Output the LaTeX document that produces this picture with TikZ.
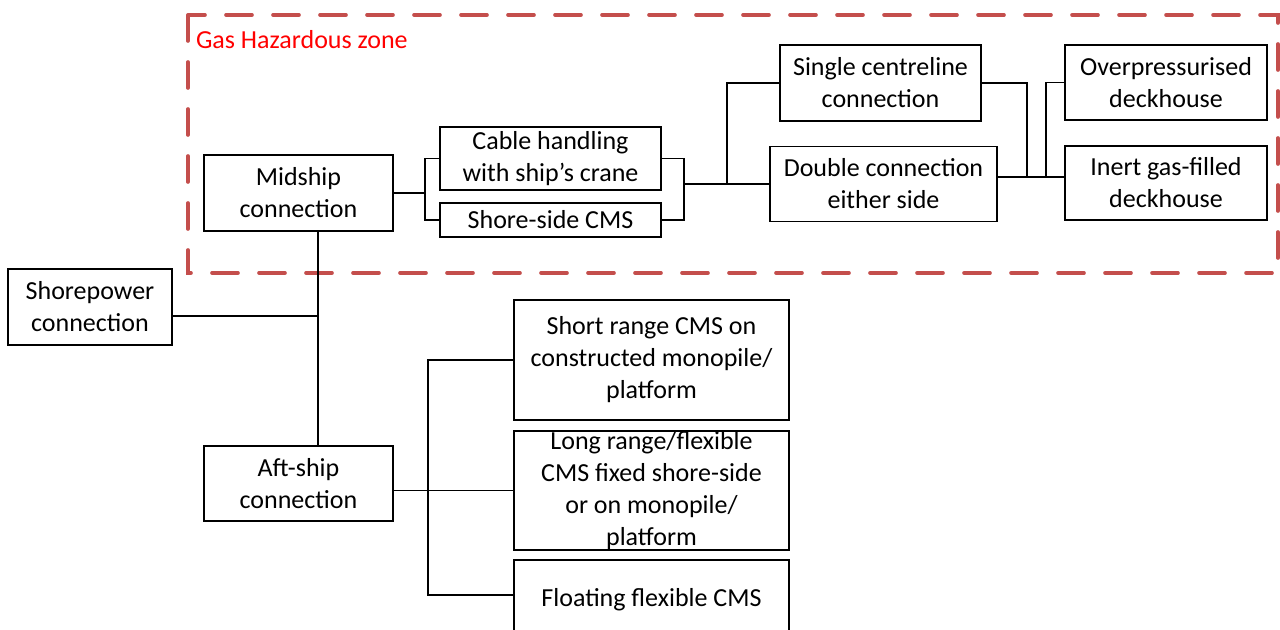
\documentclass[tikz,border=0pt]{standalone}
\usepackage{fontspec}
\setmainfont{Carlito}
\usetikzlibrary{calc}
\definecolor{zonered}{RGB}{196,78,76}
\tikzset{
	box/.style={draw=black, line width=0.7pt, align=center, inner sep=0pt,
		font=\fontsize{13pt}{16pt}\selectfont},
	link/.style={black, line width=0.6pt},
}
\begin{document}
\begin{tikzpicture}[x=0.5pt, y=-0.5pt]
			\clip (0,0) rectangle (1280,630);
			\fill[white] (0,0) rectangle (1280,630);
			% gas hazardous zone
			\draw[zonered, line width=1.8pt, line cap=round, dash pattern=on 13pt off 10.5pt] (188,15) rectangle (1278,273);
			\node[anchor=west, text=red, font=\fontsize{13pt}{16pt}\selectfont] (zone) at (189,40) {Gas Hazardous zone};
			% boxes
			\node[box, minimum width=94.5pt, minimum height=38pt] (mid) at (298.5,193) {Midship\\connection};
			\node[box, minimum width=110.5pt, minimum height=31.5pt] (cable) at (550.5,158.5) {Cable handling\\with ship’s crane};
			\node[box, minimum width=110.5pt, minimum height=17pt] (shore) at (550.5,220) {Shore-side CMS};
			\node[box, minimum width=100.5pt, minimum height=38pt] (single) at (880.5,83) {Single centreline\\connection};
			\node[box, minimum width=113.5pt, minimum height=37.5pt] (double) at (883.5,184) {Double connection\\either side};
			\node[box, minimum width=101pt, minimum height=37.5pt] (overp) at (1166,82.5) {Overpressurised\\deckhouse};
			\node[box, minimum width=101pt, minimum height=37pt] (inert) at (1166,183) {Inert gas-filled\\deckhouse};
			\node[box, minimum width=82pt, minimum height=38pt] (shorepower) at (90,307) {Shorepower\\connection};
			\node[box, minimum width=94.5pt, minimum height=37.5pt] (aft) at (298.5,483.5) {Aft-ship\\connection};
			\node[box, minimum width=137.5pt, minimum height=60pt] (short) at (651.5,360) {Short range CMS on\\constructed monopile/\\platform};
			\node[box, minimum width=137.5pt, minimum height=59.5pt] (long) at (651.5,490.5) {Long range/flexible\\CMS fixed shore-side\\or on monopile/\\platform};
			\node[box, minimum width=137.5pt, minimum height=40pt] (floating) at (651.5,600) {Floating flexible CMS};
			% junctions
			\coordinate (j1) at (425,193);
			\coordinate (j2) at (684,184);
			\coordinate (j3) at (727,184);
			\coordinate (j4) at (1027,177);
			\coordinate (j5) at (1046,177);
			\coordinate (j6) at (318,316);
			\coordinate (j7) at (428,595);
			% connectors
			\draw[link] (mid.east) -- (j1);
			\draw[link] (cable.west) -| (j1) |- (shore.west);
			\draw[link] (cable.east) -| (j2) |- (shore.east);
			\draw[link] (j2) -- (double.west);
			\draw[link] (j3) |- (single.west);
			\draw[link] (single.east) -| (j4);
			\draw[link] (double.east |- j4) -- (j5);
			\draw[link] (overp.west) -| (j5) -- (inert.west |- j5);
			\draw[link] (mid.south -| j6) -- (aft.north -| j6);
			\draw[link] (shorepower.east |- j6) -- (j6);
			\draw[link] (aft.east |- long.west) -- (long.west);
			\draw[link] (short.west) -| (j7) -- (floating.west |- j7);
		\end{tikzpicture}
\end{document}
